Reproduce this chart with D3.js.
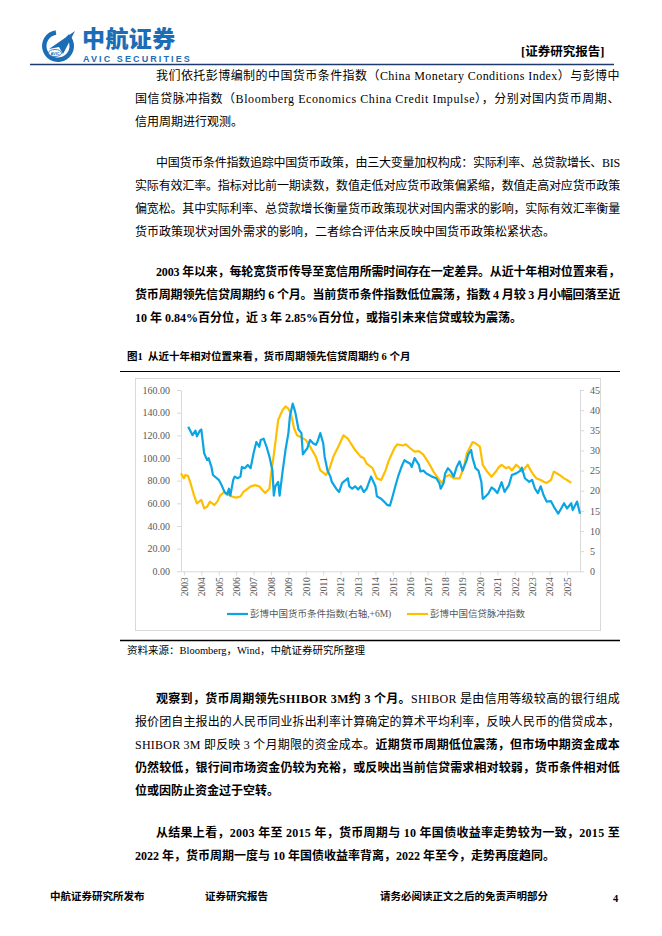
<!DOCTYPE html>
<html>
<head>
<meta charset="utf-8">
<script src="https://cdn.jsdelivr.net/npm/d3@7"></script>
<style>
  html, body { margin: 0; padding: 0; background: #fff; }
  #page { position: relative; width: 662px; height: 936px; overflow: hidden;
          font-family: "Liberation Serif", "Noto Sans CJK SC", serif; color: #000; }
  #art { position: absolute; left: 0; top: 0; }
  .para { position: absolute; left: 135px; width: 485px; font-size: 12px; }
  .row { height: 23px; line-height: 23px; white-space: nowrap; }
  .row.ind { padding-left: 21px; }
  .ln { display: inline-block; white-space: nowrap; }
  .b { font-weight: bold; }
  .abs { position: absolute; white-space: nowrap; }
</style>
</head>
<body>
<div id="page">
  <svg id="art" width="662" height="936"></svg>

  <div class="abs" style="left:82px;top:25px;font-family:'Noto Sans CJK SC';font-weight:900;font-size:23px;color:#1b6db6;letter-spacing:0.4px;line-height:24px;height:24px;">中航证券</div>
  <div class="abs" style="left:83px;top:55px;font-family:'Liberation Sans';font-weight:bold;font-size:9px;color:#1b6db6;letter-spacing:2.1px;line-height:9px;height:9px;">AVIC SECURITIES</div>
  <div class="abs b" style="left:521px;top:44px;font-size:12.5px;line-height:16px;">[证券研究报告]</div>

  <div class="para" style="top:64.5px;">
    <div class="row ind"><span class="ln j">我们依托彭博编制的中国货币条件指数（China Monetary Conditions Index）与彭博中</span></div>
    <div class="row"><span class="ln j">国信贷脉冲指数（Bloomberg Economics China Credit Impulse），分别对国内货币周期、</span></div>
    <div class="row"><span class="ln">信用周期进行观测。</span></div>
  </div>

  <div class="para" style="top:151.5px;">
    <div class="row ind"><span class="ln j">中国货币条件指数追踪中国货币政策，由三大变量加权构成：实际利率、总贷款增长、BIS</span></div>
    <div class="row"><span class="ln j">实际有效汇率。指标对比前一期读数，数值走低对应货币政策偏紧缩，数值走高对应货币政策</span></div>
    <div class="row"><span class="ln j">偏宽松。其中实际利率、总贷款增长衡量货币政策现状对国内需求的影响，实际有效汇率衡量</span></div>
    <div class="row"><span class="ln">货币政策现状对国外需求的影响，二者综合评估来反映中国货币政策松紧状态。</span></div>
  </div>

  <div class="para b" style="top:260.5px;">
    <div class="row ind"><span class="ln j">2003 年以来，每轮宽货币传导至宽信用所需时间存在一定差异。从近十年相对位置来看，</span></div>
    <div class="row"><span class="ln j">货币周期领先信贷周期约 6 个月。当前货币条件指数低位震荡，指数 4 月较 3 月小幅回落至近</span></div>
    <div class="row"><span class="ln">10 年 0.84%百分位，近 3 年 2.85%百分位，或指引未来信贷或较为震荡。</span></div>
  </div>

  <div class="abs b" style="left:127px;top:349px;font-size:10.5px;line-height:16px;">图1&nbsp;&nbsp;从近十年相对位置来看，货币周期领先信贷周期约 6 个月</div>
  <div class="abs" style="left:127px;top:643px;font-size:10.5px;line-height:16px;">资料来源：Bloomberg，Wind，中航证券研究所整理</div>

  <div class="para" style="top:687.5px;">
    <div class="row ind"><span class="ln j"><span class="b">观察到，货币周期领先SHIBOR 3M约 3 个月。</span>SHIBOR 是由信用等级较高的银行组成</span></div>
    <div class="row"><span class="ln j">报价团自主报出的人民币同业拆出利率计算确定的算术平均利率，反映人民币的借贷成本，</span></div>
    <div class="row"><span class="ln j">SHIBOR 3M 即反映 3 个月期限的资金成本。<span class="b">近期货币周期低位震荡，但市场中期资金成本</span></span></div>
    <div class="row"><span class="ln j b">仍然较低，银行间市场资金仍较为充裕，或反映出当前信贷需求相对较弱，货币条件相对低</span></div>
    <div class="row"><span class="ln b">位或因防止资金过于空转。</span></div>
  </div>

  <div class="para b" style="top:821.5px;">
    <div class="row ind"><span class="ln j">从结果上看，2003 年至 2015 年，货币周期与 10 年国债收益率走势较为一致，2015 至</span></div>
    <div class="row"><span class="ln">2022 年，货币周期一度与 10 年国债收益率背离，2022 年至今，走势再度趋同。</span></div>
  </div>

  <div class="abs b" style="left:50px;top:889px;font-size:10.5px;line-height:16px;">中航证券研究所发布</div>
  <div class="abs b" style="left:205px;top:889px;font-size:10.5px;line-height:16px;">证券研究报告</div>
  <div class="abs b" style="left:380px;top:889px;font-size:10.5px;line-height:16px;">请务必阅读正文之后的免责声明部分</div>
  <div class="abs b" style="left:613px;top:891px;font-size:10.5px;line-height:16px;">4</div>
</div>

<script>
// Bloomberg China Monetary Conditions Index (right axis, shifted +6M)
const mciDates = ['2003-04','2003-05','2003-07','2003-09','2003-10','2003-12','2004-01','2004-03','2004-05','2004-06',
  '2004-08','2004-09','2005-01','2005-03','2005-05','2005-07','2005-08','2005-09','2005-11','2005-12',
  '2006-02','2006-04','2006-05','2006-07','2006-09','2006-11','2007-01','2007-03','2007-05','2007-06',
  '2007-08','2007-10','2007-12','2008-02','2008-03','2008-04','2008-06','2008-07','2008-09','2008-11',
  '2009-01','2009-02','2009-04','2009-05','2009-06','2009-08','2009-10','2009-11','2010-01','2010-02',
  '2010-04','2010-06','2010-08','2010-09','2010-11','2011-01','2011-02','2011-04','2011-06','2011-07',
  '2011-10','2011-12','2012-02','2012-03','2012-06','2012-07','2012-09','2012-11','2013-01','2013-03',
  '2013-05','2013-07','2013-10','2013-11','2014-01','2014-02','2014-05','2014-07','2014-09','2014-11',
  '2015-01','2015-03','2015-05','2015-07','2015-09','2015-10','2016-01','2016-02','2016-04','2016-07',
  '2016-08','2016-10','2016-12','2017-02','2017-04','2017-07','2017-09','2017-10','2017-12','2018-01',
  '2018-03','2018-05','2018-07','2018-09','2018-11','2019-01','2019-02','2019-04','2019-05','2019-07',
  '2019-08','2019-10','2019-12','2020-02','2020-03','2020-05','2020-07','2020-09','2020-11','2021-01',
  '2021-04','2021-06','2021-09','2021-11','2022-02','2022-05','2022-06','2022-08','2022-11','2023-01',
  '2023-03','2023-05','2023-07','2023-09','2023-11','2024-02','2024-04','2024-07','2024-09','2024-11',
  '2025-01','2025-04','2025-05','2025-08','2025-10'];
const mciValues = [35.9,35.2,33.8,34.9,33.5,34.9,35.2,29.3,27.6,28.1,
  25.9,23.9,22.7,21.4,19.7,19.1,20.5,18.8,22.7,23.5,
  23.1,23.5,25.9,25.6,26.4,25.6,29.3,32.1,30.9,32.6,
  32.9,30.9,28.4,25.0,18.8,21.1,22.2,18.8,24.8,30.1,
  34.3,38.4,41.6,40.5,39.1,35.2,34.3,29.0,30.1,30.5,
  32.6,31.8,31.4,32.1,34.3,31.8,28.4,25.0,23.5,22.2,
  20.5,19.7,21.9,22.2,23.1,21.1,20.5,21.1,20.3,21.1,
  19.7,20.5,23.5,22.7,21.1,18.6,18.0,17.3,16.5,16.3,
  18.8,21.4,23.9,25.9,27.6,27.3,26.7,25.9,28.1,26.4,
  24.8,25.0,24.3,23.9,23.5,23.1,21.9,20.5,21.9,24.3,
  25.6,24.8,23.5,25.9,27.3,25.0,25.9,27.6,29.0,30.1,
  28.1,25.6,25.0,22.2,18.0,18.6,19.4,20.8,20.3,19.4,
  22.1,19.7,21.4,23.9,24.3,25.0,25.7,23.1,22.2,22.7,
  20.5,19.4,21.1,18.8,17.3,17.4,16.0,14.3,15.6,16.9,
  15.6,16.9,15.2,17.3,14.3];

// Bloomberg Economics China Credit Impulse (left axis)
const ciDates = ['2002-11','2003-01','2003-02','2003-04','2003-06','2003-08','2003-10','2004-01','2004-03','2004-05',
  '2004-07','2004-10','2004-12','2005-02','2005-05','2005-06','2005-09','2005-10','2006-01','2006-04',
  '2006-06','2006-09','2006-11','2007-02','2007-05','2007-07','2007-09','2007-12','2008-01','2008-03',
  '2008-05','2008-06','2008-09','2008-11','2009-01','2009-03','2009-05','2009-07','2009-09','2010-01',
  '2010-04','2010-08','2010-11','2011-03','2011-05','2011-08','2011-12','2012-03','2012-06','2012-08',
  '2012-11','2013-03','2013-05','2013-07','2013-11','2014-02','2014-05','2014-08','2014-10','2015-02',
  '2015-04','2015-08','2015-10','2016-01','2016-04','2016-07','2016-10','2017-02','2017-05','2017-09',
  '2017-11','2018-01','2018-04','2018-07','2018-11','2019-02','2019-04','2019-08','2019-10','2020-01',
  '2020-03','2020-06','2020-09','2020-12','2021-02','2021-04','2021-07','2021-09','2021-11','2022-02',
  '2022-04','2022-06','2022-08','2022-10','2022-12','2023-02','2023-04','2023-07','2023-09','2023-11',
  '2024-02','2024-04','2024-06','2024-09','2024-11','2025-01','2025-04'];
const ciValues = [86.5,82,85,84,76,67,60,63,55.6,57,
  61.5,58.5,61.5,67,70,68,67,66,65,66,
  70,73,75,76,75,72,69,73,85,103,
  123,133.6,142.4,145.5,143.6,138,126,120,118.7,116,
  110,101,89,85,89,101,111.5,120,117,113,
  107,101,100,95,91,82,80.6,89,97,108.6,
  112,111,112,108.6,105.6,106,103,95,88,80.6,
  77.7,83.5,85,82,82,92,104,114,113,110,
  94,88,83.5,88,92,94,91,92,89,94,
  92,88,91,94,89,85,82,80.6,79,78,
  80.6,88,86.5,84,82,80.6,78];

const leftTicks = [0, 20, 40, 60, 80, 100, 120, 140, 160];
const rightTicks = [0, 5, 10, 15, 20, 25, 30, 35, 40, 45];
const yearTicks = d3.range(2003, 2026);
const legendLabels = ['彭博中国货币条件指数(右轴,+6M)', '彭博中国信贷脉冲指数'];

const BLUE = '#0ba5e4';
const GOLD = '#ffbf00';

const parseMonth = d3.timeParse('%Y-%m');
const svg = d3.select('#art');

// ---- header rule and logo
svg.append('line').attr('x1', 30).attr('x2', 614).attr('y1', 64.5).attr('y2', 64.5)
  .attr('stroke', '#1f3b6e').attr('stroke-width', 1.4);

const logo = svg.append('g').attr('transform', 'translate(58,46)');
logo.append('path')
  .attr('d', d3.arc()({ innerRadius: 11.5, outerRadius: 16, startAngle: 0.75, endAngle: 2 * Math.PI - 0.15 }))
  .attr('fill', '#1b6db6');
logo.append('path')
  .attr('d', 'M-9,3 L17,-15 L5,8 L1,1 Z')
  .attr('fill', '#1b6db6');
logo.append('ellipse').attr('cx', -3).attr('cy', 7).attr('rx', 6.5).attr('ry', 3.5)
  .attr('fill', '#fff').attr('stroke', '#1b6db6').attr('stroke-width', 0.8);
logo.append('text').attr('x', -3).attr('y', 8.6).attr('text-anchor', 'middle')
  .style('font-family', 'Liberation Sans').style('font-size', '4px').style('font-weight', 'bold')
  .attr('fill', '#1b6db6').text('AVIC');

// ---- figure frame
svg.append('line').attr('x1', 120).attr('x2', 620).attr('y1', 371.5).attr('y2', 371.5)
  .attr('stroke', '#000').attr('stroke-width', 1.1);
svg.append('line').attr('x1', 120).attr('x2', 620).attr('y1', 640.5).attr('y2', 640.5)
  .attr('stroke', '#000').attr('stroke-width', 1.3);
svg.append('rect').attr('x', 135.5).attr('y', 378.5).attr('width', 465).attr('height', 252)
  .attr('fill', 'none').attr('stroke', '#d9d9d9');

// ---- scales
const plot = { left: 181, right: 580, top: 390, bottom: 571.3 };
const x = d3.scaleTime()
  .domain([new Date(2002, 10, 1), new Date(2025, 9, 1)])
  .range([plot.left, plot.right]);
const yLeft = d3.scaleLinear().domain([0, 160]).range([plot.bottom, plot.top]);
const yRight = d3.scaleLinear().domain([0, 45]).range([plot.bottom, plot.top]);

function styleAxis(g) {
  g.select('.domain').attr('stroke', '#d9d9d9');
  g.selectAll('.tick line').attr('stroke', '#d9d9d9');
  g.selectAll('.tick text').attr('fill', '#595959')
    .style('font-family', '"Liberation Serif", serif').style('font-size', '10px');
}

svg.append('g')
  .attr('transform', `translate(${plot.left},0)`)
  .call(d3.axisLeft(yLeft).tickValues(leftTicks).tickFormat(d3.format('.2f'))
    .tickSize(4).tickSizeOuter(0).tickPadding(7))
  .call(styleAxis);

svg.append('g')
  .attr('transform', `translate(${plot.right},0)`)
  .call(d3.axisRight(yRight).tickValues(rightTicks).tickFormat(d3.format('d'))
    .tickSize(4).tickSizeOuter(0).tickPadding(6))
  .call(styleAxis);

const xAxis = svg.append('g')
  .attr('transform', `translate(0,${plot.bottom})`)
  .call(d3.axisBottom(x).tickValues(yearTicks.map(y => new Date(y, 0, 1)))
    .tickFormat(d3.timeFormat('%Y')).tickSize(4).tickSizeOuter(0))
  .call(styleAxis);
xAxis.selectAll('.tick text')
  .attr('transform', 'rotate(-90)')
  .attr('x', -6).attr('y', 0).attr('dy', '0.35em')
  .style('text-anchor', 'end')
  .style('font-size', '9.5px');

// ---- lines
const ciData = ciDates.map((d, i) => ({ date: parseMonth(d), value: ciValues[i] }));
const mciData = mciDates.map((d, i) => ({ date: parseMonth(d), value: mciValues[i] }));

svg.append('path')
  .datum(ciData)
  .attr('fill', 'none').attr('stroke', GOLD).attr('stroke-width', 2.2)
  .attr('stroke-linejoin', 'round')
  .attr('d', d3.line().x(d => x(d.date)).y(d => yLeft(d.value)));

svg.append('path')
  .datum(mciData)
  .attr('fill', 'none').attr('stroke', BLUE).attr('stroke-width', 2.2)
  .attr('stroke-linejoin', 'round')
  .attr('d', d3.line().x(d => x(d.date)).y(d => yRight(d.value)));

// ---- legend
const legend = svg.append('g').attr('transform', 'translate(0,614)');
[[227, BLUE, legendLabels[0]], [407, GOLD, legendLabels[1]]].forEach(([lx, color, label]) => {
  legend.append('line').attr('x1', lx).attr('x2', lx + 21).attr('y1', 0).attr('y2', 0)
    .attr('stroke', color).attr('stroke-width', 2.2);
  legend.append('text').attr('x', lx + 23).attr('y', 0).attr('dy', '0.35em')
    .attr('fill', '#595959')
    .style('font-family', '"Liberation Serif", "Noto Sans CJK SC", serif').style('font-size', '9.5px')
    .text(label);
});

// ---- justify each full text line to its box width
function justify() {
  document.querySelectorAll('.ln.j').forEach(el => {
    const row = el.parentNode;
    const target = row.classList.contains('ind') ? 464 : 485;
    el.style.letterSpacing = '0px';
    const w = el.getBoundingClientRect().width;
    const n = el.textContent.length;
    el.style.letterSpacing = ((target - w) / n) + 'px';
  });
}
if (document.fonts && document.fonts.ready) document.fonts.ready.then(justify);
justify();
</script>
</body>
</html>
